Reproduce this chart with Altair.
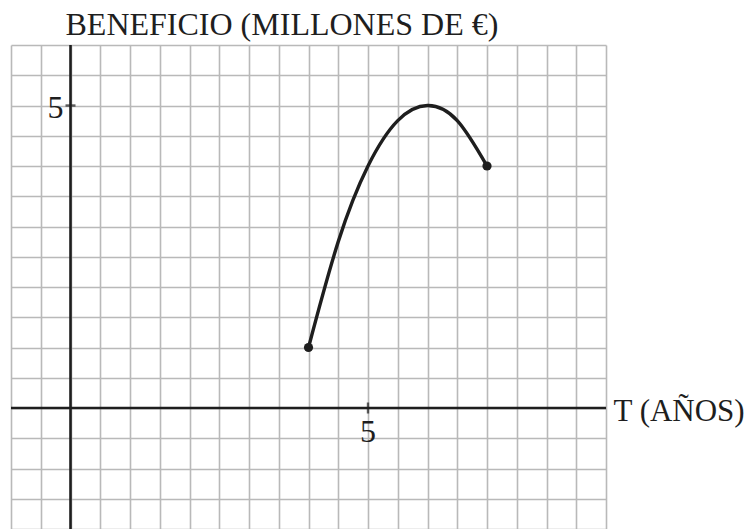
import altair as alt
import pandas as pd

# Profit curve: time in years vs. profit in millions of euros
t_years = [4, 4.5, 5, 5.5, 6, 6.5, 7]
profit = [1, 2.75, 4, 4.75, 5, 4.75, 4]

# Closed endpoints of the curve
end_t = [4, 7]
end_profit = [1, 4]

# Visible window and half-unit grid
t_domain = [-1, 9]
profit_domain = [-2, 6]
grid_t = [i / 2 for i in range(-2, 19)]
grid_profit = [i / 2 for i in range(-4, 13)]

# Labelled ticks on the axes
tick_t = [5]
tick_profit = [5]

SERIF = "Liberation Serif"
INK = "#1e1e1e"
GRID = "#b9b9b9"

x_scale = alt.Scale(domain=t_domain, nice=False, zero=False)
y_scale = alt.Scale(domain=profit_domain, nice=False, zero=False)

x_axis = alt.Axis(
    values=grid_t, grid=True, gridColor=GRID, gridWidth=1.6, gridOpacity=1,
    labels=False, ticks=False, domain=False,
    title="T (AÑOS)", titleFont=SERIF, titleFontSize=31, titleFontWeight="normal",
    titleColor=INK, titleAngle=0, titleAlign="left", titleBaseline="alphabetic",
    titleX=602, titleY=-109,
)
y_axis = alt.Axis(
    values=grid_profit, grid=True, gridColor=GRID, gridWidth=1.6, gridOpacity=1,
    labels=False, ticks=False, domain=False,
    title="BENEFICIO (MILLONES DE €)", titleFont=SERIF, titleFontSize=32,
    titleFontWeight="normal", titleColor=INK, titleAngle=0, titleAlign="left",
    titleBaseline="alphabetic", titleX=54, titleY=-11,
)


def X(field="t"):
    return alt.X(f"{field}:Q", scale=x_scale, axis=x_axis)


def Y(field="v"):
    return alt.Y(f"{field}:Q", scale=y_scale, axis=y_axis)


curve_df = pd.DataFrame({"t": t_years, "v": profit})
ends_df = pd.DataFrame({"t": end_t, "v": end_profit})

# Coordinate axes through the origin, spanning the whole window
axes_df = pd.DataFrame({
    "t": [t_domain[0], 0],
    "t2": [t_domain[1], 0],
    "v": [0, profit_domain[0]],
    "v2": [0, profit_domain[1]],
})

xt_df = pd.DataFrame({"t": tick_t, "v": [0] * len(tick_t), "lab": [str(k) for k in tick_t]})
yt_df = pd.DataFrame({"t": [0] * len(tick_profit), "v": tick_profit, "lab": [str(k) for k in tick_profit]})

axes_lines = alt.Chart(axes_df).mark_rule(color=INK, strokeWidth=2.6).encode(
    x=X(), x2="t2:Q", y=Y(), y2="v2:Q"
)

x_ticks = alt.Chart(xt_df).mark_tick(orient="vertical", color=INK, thickness=2.4, size=11).encode(
    x=X(), y=Y()
)
y_ticks = alt.Chart(yt_df).mark_tick(orient="horizontal", color=INK, thickness=2.4, size=10).encode(
    x=X(), y=Y()
)

x_labels = alt.Chart(xt_df).mark_text(
    font=SERIF, fontSize=32, color=INK, align="center", baseline="middle", dy=24
).encode(x=X(), y=Y(), text="lab:N")
y_labels = alt.Chart(yt_df).mark_text(
    font=SERIF, fontSize=32, color=INK, align="right", baseline="middle", dx=-7, dy=2
).encode(x=X(), y=Y(), text="lab:N")

curve = alt.Chart(curve_df).mark_line(
    color=INK, strokeWidth=3.4, interpolate="natural"
).encode(x=X(), y=Y())

ends = alt.Chart(ends_df).mark_point(
    filled=True, color=INK, opacity=1, size=85
).encode(x=X(), y=Y())

chart = alt.layer(
    curve, axes_lines, x_ticks, y_ticks, x_labels, y_labels, ends
).properties(
    width=595,
    height=484,
    autosize=alt.AutoSizeParams(type="none"),
    padding={"left": 11, "top": 45, "right": 145, "bottom": 0},
    background="white",
).configure_view(stroke=None)

chart.save("out.html", embed_options={"renderer": "svg", "actions": False})
